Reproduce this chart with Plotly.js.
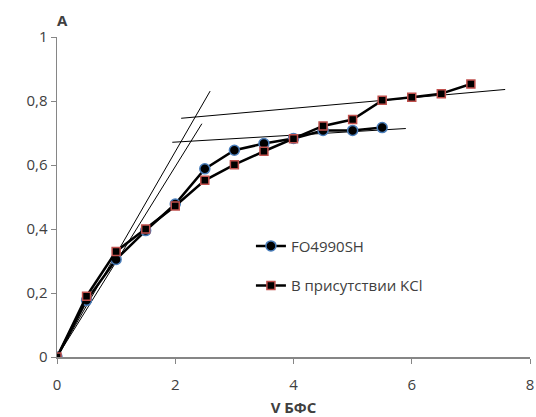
<!DOCTYPE html>
<html><head><meta charset="utf-8">
<script src="https://cdn.plot.ly/plotly-3.0.1.min.js"></script>
<style>body{margin:0;background:#fff}#chart{width:536px;height:417px}</style>
</head><body><div id="chart"></div>
<script>
const xFO = [0, 0.5, 1, 1.5, 2, 2.5, 3, 3.5, 4, 4.5, 5, 5.5];
const yFO = [0, 0.177, 0.305, 0.395, 0.478, 0.588, 0.646, 0.667, 0.683, 0.708, 0.708, 0.717];
const xKCl = [0, 0.5, 1, 1.5, 2, 2.5, 3, 3.5, 4, 4.5, 5, 5.5, 6, 6.5, 7];
const yKCl = [0, 0.19, 0.33, 0.40, 0.472, 0.552, 0.601, 0.643, 0.682, 0.722, 0.742, 0.802, 0.812, 0.823, 0.853];
// tangent lines
const tanSteep1X = [0, 2.59], tanSteep1Y = [0, 0.831];
const tanSteep2X = [0, 2.45], tanSteep2Y = [0, 0.729];
const tanFlat1X = [2.1, 7.58], tanFlat1Y = [0.746, 0.836];
const tanFlat2X = [1.95, 5.9], tanFlat2Y = [0.671, 0.714];
const nameFO = 'FO4990SH';
const nameKCl = 'В присутствии KCl';

const font = 'Open Sans, Liberation Sans, sans-serif';
const thin = (x, y) => ({x, y, mode: 'lines', line: {color: '#000', width: 1}, showlegend: false, hoverinfo: 'skip'});
const data = [
  thin(tanSteep1X, tanSteep1Y), thin(tanSteep2X, tanSteep2Y),
  thin(tanFlat1X, tanFlat1Y), thin(tanFlat2X, tanFlat2Y),
  {x: xFO, y: yFO, name: nameFO, mode: 'lines+markers', legendgroup: 'a',
   line: {color: '#000', width: 2.5},
   marker: {symbol: 'circle', size: 10, color: '#000', line: {color: '#4a7ebb', width: 1.5}}},
  {x: xKCl, y: yKCl, name: nameKCl, mode: 'lines+markers', legendgroup: 'b',
   line: {color: '#000', width: 2.5},
   marker: {symbol: 'square', size: 8, color: '#000', line: {color: '#c0504d', width: 1.5}}}
];
const layout = {
  width: 536, height: 417,
  margin: {l: 57, r: 6, t: 37, b: 60},
  paper_bgcolor: '#fff', plot_bgcolor: '#fff',
  separators: ', ',
  font: {family: font, size: 15, color: '#404040'},
  showlegend: true,
  legend: {x: 0.41, y: 0.398, xanchor: 'left', yanchor: 'top', bgcolor: 'rgba(0,0,0,0)',
           traceorder: 'grouped', tracegroupgap: 17, font: {size: 15, color: '#404040'}},
  xaxis: {range: [0, 8], dtick: 2, tick0: 0, showgrid: false, zeroline: false,
          showline: true, linecolor: '#868686', linewidth: 1.5, ticks: 'outside', ticklen: 5, tickcolor: '#868686',
          ticklabelstandoff: 8,
          title: {text: '<b>V БФС</b>', font: {size: 15, color: '#404040'}, standoff: 11}},
  yaxis: {range: [0, 1], dtick: 0.2, tick0: 0, showgrid: false, zeroline: false,
          showline: true, linecolor: '#868686', linewidth: 1.5, ticks: 'outside', ticklen: 5, tickcolor: '#868686'},
  annotations: [{text: '<b>A</b>', xref: 'paper', yref: 'paper', x: 0.0, y: 1.0, xanchor: 'left', yanchor: 'bottom',
                 xshift: -2, yshift: 5, showarrow: false, font: {size: 15, color: '#404040'}}]
};
Plotly.newPlot('chart', data, layout, {displayModeBar: false, staticPlot: true});
</script></body></html>
